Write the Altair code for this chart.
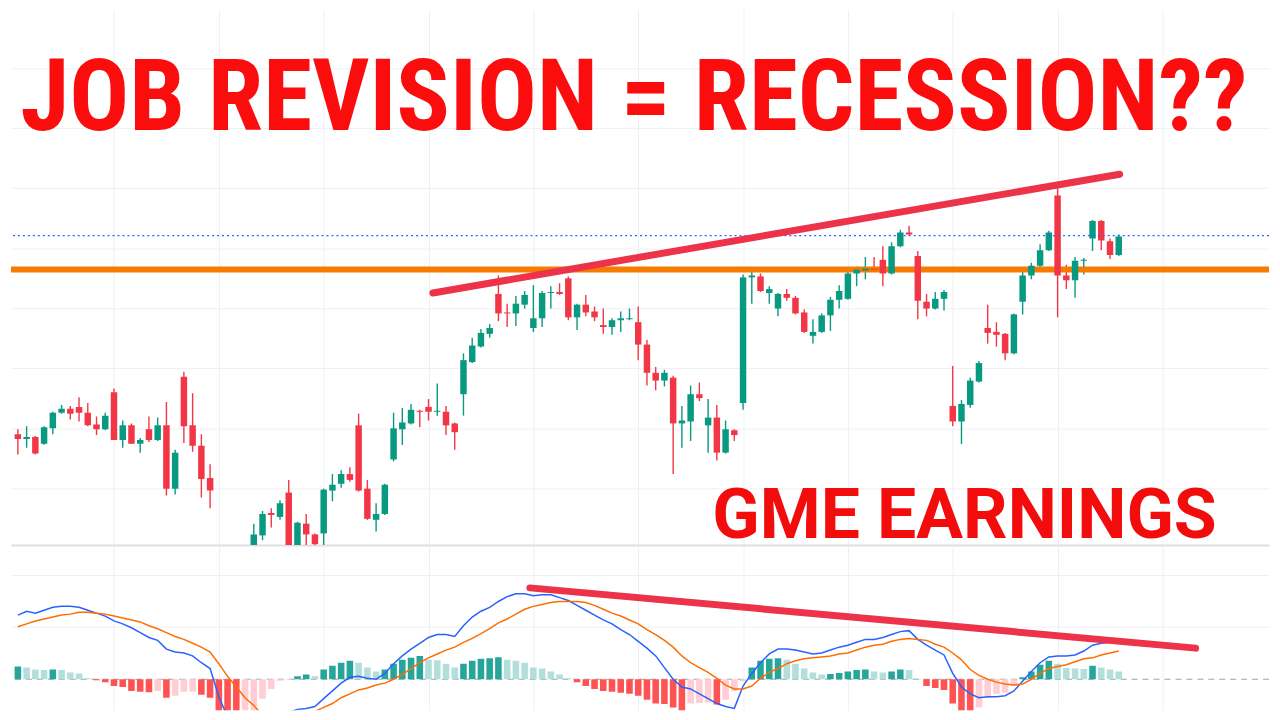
import altair as alt
import pandas as pd
import numpy as np

# ---------------- data ----------------
opens = [26.4, 25.9, 26.1, 25.4, 27.0, 28.6, 29.0, 29.2, 28.6, 27.4,
         26.9, 30.7, 25.8, 27.3, 25.4, 26.9, 25.8, 27.3, 20.8, 32.3,
         27.3, 25.2, 21.9, 14.4, 12.2, 13.2, 11.0, 14.0, 16.0, 18.3,
         17.9, 20.4, 13.8, 17.2, 16.1, 16.2, 20.6, 21.3, 22.3, 27.3,
         20.8, 17.6, 18.2, 23.8, 26.9, 27.5, 28.8, 29.2, 28.7, 28.7,
         27.5, 30.5, 33.8, 35.4, 36.7, 40.8, 38.9, 38.8, 39.7, 37.3,
         38.3, 40.9, 41.0, 42.4, 38.4, 39.7, 39.0, 37.6, 37.4, 38.1,
         38.2, 37.9, 35.6, 32.7, 31.9, 32.2, 27.5, 27.7, 30.5, 27.3,
         28.1, 24.5, 26.8, 29.6, 42.5, 42.6, 40.9, 39.3, 40.8, 40.4,
         38.9, 36.5, 36.9, 38.6, 40.2, 40.3, 42.9, 43.2, 43.4, 44.3,
         42.9, 45.7, 47.1, 44.7, 40.0, 39.3, 40.3, 29.3, 27.7, 29.4,
         31.8, 37.3, 36.9, 36.7, 34.7, 40.0, 42.7, 43.7, 45.3, 50.9,
         42.7, 42.2, 44.2, 46.5, 48.3, 46.2, 44.8]
highs = [26.9, 27.2, 26.2, 27.2, 28.7, 29.4, 29.3, 30.2, 29.6, 28.2,
         28.6, 31.1, 27.8, 27.5, 26.0, 28.2, 28.1, 29.7, 24.8, 32.8,
         30.6, 26.4, 23.3, 14.7, 14.0, 13.8, 14.4, 17.2, 18.5, 18.8,
         19.6, 21.7, 17.4, 18.2, 16.2, 20.8, 22.3, 22.7, 23.0, 28.5,
         21.7, 19.3, 21.3, 28.6, 29.1, 29.5, 28.9, 30.0, 31.6, 29.3,
         27.6, 34.7, 36.3, 37.2, 37.7, 42.7, 39.8, 40.6, 41.1, 41.7,
         41.1, 41.6, 41.9, 42.6, 39.8, 40.7, 39.5, 39.3, 38.3, 39.0,
         39.3, 39.5, 36.1, 33.3, 33.0, 32.4, 29.3, 31.4, 31.7, 30.0,
         29.4, 27.8, 26.9, 42.8, 43.1, 42.9, 41.6, 40.9, 41.3, 40.6,
         39.2, 38.2, 38.8, 40.5, 41.7, 43.3, 43.6, 44.6, 44.6, 45.7,
         46.1, 47.4, 47.8, 45.2, 40.8, 41.0, 41.2, 33.4, 29.9, 32.2,
         33.9, 39.7, 37.9, 36.8, 38.8, 43.1, 44.0, 45.9, 47.3, 51.7,
         43.8, 44.6, 44.5, 48.4, 48.4, 46.5, 46.9]
lows = [24.3, 25.0, 24.3, 25.3, 26.4, 28.5, 27.9, 27.7, 27.2, 26.3,
        26.8, 25.8, 25.0, 25.4, 24.5, 25.6, 25.7, 20.1, 20.2, 25.5,
        24.6, 19.9, 18.8, 11.0, 10.5, 10.0, 10.2, 13.4, 15.5, 16.8,
        17.6, 13.5, 13.4, 14.4, 14.5, 14.2, 19.5, 20.9, 21.5, 20.5,
        17.6, 16.4, 18.1, 23.6, 25.3, 27.4, 27.1, 27.8, 28.3, 26.3,
        24.8, 28.3, 33.7, 35.3, 36.3, 38.0, 37.4, 37.5, 39.3, 36.9,
        37.4, 39.3, 40.7, 38.1, 37.1, 38.5, 38.0, 36.7, 36.6, 36.9,
        38.1, 34.0, 31.4, 30.9, 31.3, 22.3, 25.0, 25.7, 29.8, 24.5,
        23.7, 24.4, 25.7, 28.9, 39.8, 41.0, 39.8, 38.5, 40.1, 38.7,
        36.8, 35.7, 36.8, 37.0, 39.3, 40.2, 41.6, 42.3, 43.2, 41.6,
        42.8, 45.6, 46.8, 38.2, 38.5, 39.2, 39.1, 27.2, 25.4, 29.1,
        31.7, 35.7, 35.4, 34.0, 34.6, 38.7, 42.3, 43.5, 45.2, 38.4,
        41.3, 40.4, 42.8, 45.2, 45.3, 44.4, 44.7]
closes = [25.9, 26.1, 24.4, 27.1, 28.6, 29.0, 28.5, 28.6, 27.3, 26.9,
          28.3, 25.8, 27.3, 25.4, 25.8, 25.8, 27.3, 20.8, 24.5, 27.2,
          25.2, 21.8, 20.6, 12.0, 13.4, 11.2, 13.8, 16.1, 18.2, 18.1,
          19.3, 14.0, 17.3, 16.1, 15.1, 20.7, 21.2, 22.3, 21.7, 20.6,
          17.7, 18.2, 21.2, 27.0, 27.6, 28.9, 28.7, 28.7, 28.8, 27.3,
          26.6, 34.0, 35.5, 36.8, 37.3, 38.8, 38.8, 39.8, 40.7, 38.3,
          40.9, 41.0, 40.8, 38.4, 39.7, 38.9, 38.4, 37.4, 38.1, 38.3,
          38.3, 35.6, 32.7, 31.9, 32.7, 27.5, 27.8, 30.5, 30.1, 28.1,
          24.5, 26.9, 26.3, 42.5, 42.7, 41.1, 41.3, 40.8, 40.4, 38.8,
          36.9, 36.9, 38.6, 40.2, 41.1, 42.9, 43.3, 43.4, 43.3, 42.9,
          45.7, 47.1, 46.9, 40.1, 39.3, 40.3, 41.0, 27.7, 29.5, 31.9,
          33.7, 36.8, 36.6, 34.7, 38.7, 42.7, 43.7, 45.3, 47.1, 42.7,
          42.2, 44.2, 44.3, 48.3, 46.3, 44.8, 46.7]

macd = [1.32, 1.40, 1.36, 1.42, 1.48, 1.50, 1.50, 1.48, 1.42, 1.36,
        1.30, 1.20, 1.14, 1.06, 0.96, 0.86, 0.80, 0.62, 0.56, 0.54,
        0.48, 0.34, 0.22, -0.36, -0.78, -1.06, -1.08, -1.20, -1.14, -0.98,
        -0.84, -0.68, -0.62, -0.60, -0.56, -0.40, -0.24, -0.08, 0.04, 0.06,
        0.02, 0.00, 0.12, 0.32, 0.48, 0.62, 0.74, 0.86, 0.92, 0.92,
        0.88, 1.10, 1.28, 1.40, 1.48, 1.60, 1.70, 1.76, 1.76, 1.72,
        1.74, 1.74, 1.68, 1.62, 1.52, 1.42, 1.32, 1.22, 1.14, 1.02,
        0.92, 0.78, 0.64, 0.48, 0.24, 0.00, -0.16, -0.20, -0.30, -0.40,
        -0.50, -0.56, -0.60, -0.14, 0.12, 0.34, 0.52, 0.62, 0.62, 0.60,
        0.56, 0.52, 0.54, 0.60, 0.66, 0.70, 0.76, 0.82, 0.82, 0.86,
        0.92, 0.98, 1.00, 0.82, 0.70, 0.60, 0.50, 0.12, -0.16, -0.30,
        -0.38, -0.36, -0.36, -0.34, -0.24, -0.04, 0.16, 0.34, 0.46, 0.48,
        0.48, 0.50, 0.58, 0.70, 0.74, 0.76, 0.76]
signal = [1.08, 1.14, 1.20, 1.24, 1.28, 1.32, 1.34, 1.38, 1.38, 1.36,
          1.34, 1.30, 1.26, 1.22, 1.18, 1.10, 1.04, 0.96, 0.88, 0.82,
          0.74, 0.66, 0.56, 0.32, 0.06, -0.16, -0.38, -0.54, -0.74, -0.80,
          -0.82, -0.80, -0.76, -0.72, -0.66, -0.58, -0.50, -0.38, -0.30, -0.22,
          -0.18, -0.12, -0.08, 0.00, 0.10, 0.22, 0.34, 0.44, 0.52, 0.60,
          0.66, 0.76, 0.84, 0.94, 1.04, 1.16, 1.24, 1.34, 1.44, 1.50,
          1.54, 1.58, 1.60, 1.60, 1.60, 1.58, 1.52, 1.44, 1.36, 1.30,
          1.22, 1.14, 1.02, 0.92, 0.80, 0.66, 0.48, 0.34, 0.24, 0.14,
          0.02, -0.12, -0.20, -0.20, -0.14, 0.02, 0.14, 0.22, 0.32, 0.38,
          0.42, 0.44, 0.46, 0.48, 0.52, 0.54, 0.60, 0.66, 0.70, 0.72,
          0.78, 0.82, 0.84, 0.82, 0.80, 0.72, 0.66, 0.54, 0.40, 0.20,
          0.08, 0.00, -0.06, -0.10, -0.12, -0.10, 0.00, 0.12, 0.22, 0.26,
          0.30, 0.36, 0.42, 0.44, 0.50, 0.54, 0.58]
hist = [0.26, 0.24, 0.20, 0.19, 0.20, 0.19, 0.14, 0.12, 0.02, -0.02,
        -0.06, -0.14, -0.16, -0.24, -0.26, -0.27, -0.24, -0.38, -0.34, -0.26,
        -0.25, -0.32, -0.38, -0.75, -0.85, -0.90, -0.70, -0.66, -0.40, -0.20,
        -0.03, -0.01, 0.06, 0.10, 0.06, 0.20, 0.28, 0.34, 0.38, 0.34,
        0.24, 0.16, 0.20, 0.32, 0.40, 0.44, 0.48, 0.40, 0.39, 0.32,
        0.24, 0.32, 0.38, 0.42, 0.43, 0.45, 0.40, 0.38, 0.34, 0.24,
        0.22, 0.16, 0.10, 0.02, -0.06, -0.14, -0.20, -0.24, -0.26, -0.28,
        -0.30, -0.34, -0.42, -0.50, -0.51, -0.58, -0.66, -0.50, -0.49, -0.48,
        -0.52, -0.42, -0.24, -0.04, 0.24, 0.38, 0.42, 0.43, 0.40, 0.32,
        0.22, 0.14, 0.10, 0.11, 0.13, 0.16, 0.19, 0.20, 0.16, 0.14,
        0.16, 0.20, 0.19, 0.01, -0.14, -0.18, -0.22, -0.50, -0.75, -0.80,
        -0.58, -0.38, -0.30, -0.28, -0.14, 0.04, 0.16, 0.30, 0.38, 0.32,
        0.23, 0.22, 0.21, 0.28, 0.24, 0.20, 0.16]

grid_x = [11, 23, 35, 47, 59, 71, 83, 95, 107, 119, 131]
grid_price = [20.82, 27.0, 33.16, 39.33, 45.5, 51.66, 57.83, 64.0]
grid_macd = [1.08, 2.14]
support_level = 43.3
last_price = 46.8
price_trend_i = [47.5, 126.1]
price_trend_p = [40.9, 53.1]
macd_trend_i = [58.6, 134.8]
macd_trend_m = [1.88, 0.64]
title_text = "JOB REVISION = RECESSION??"
note_text = "GME EARNINGS"

# ---------------- tables ----------------
n = len(closes)
df = pd.DataFrame({"i": np.arange(n), "open": opens, "high": highs,
                   "low": lows, "close": closes, "macd": macd,
                   "signal": signal, "hist": hist})
df["dir"] = np.where(df["close"] >= df["open"], "up", "down")
prev = df["hist"].shift(1).fillna(df["hist"])
df["shade"] = np.select(
    [(df["hist"] >= 0) & (df["hist"] >= prev), df["hist"] >= 0, df["hist"] < prev],
    ["pos_up", "pos_down", "neg_down"], "neg_up")
df["zero"] = 0.0

W, H_TOP, H_BOT = 1264, 538, 166
GRID = "#eef0f4"
x_scale = alt.Scale(domain=[-0.22, 142.63], nice=False, zero=False)


def xenc(domain_line=False):
    return alt.X("i:Q", scale=x_scale,
                 axis=alt.Axis(values=grid_x, labels=False, ticks=False,
                               domain=domain_line, domainColor="#dcdfe6",
                               domainWidth=2, grid=True, gridColor=GRID,
                               title=None))


y_top = alt.Scale(domain=[15, 70], nice=False, zero=False)
y_top_axis = alt.Axis(values=grid_price, labels=False, ticks=False,
                      domain=False, grid=True, gridColor=GRID, title=None)
y_bot = alt.Scale(domain=[-0.64, 2.76], nice=False, zero=False)
y_bot_axis = alt.Axis(values=grid_macd, labels=False, ticks=False,
                      domain=False, grid=True, gridColor=GRID, title=None)

dir_color = alt.Color("dir:N", scale=alt.Scale(domain=["up", "down"],
                      range=["#089981", "#f23645"]), legend=None)

base = alt.Chart(df)

wicks = base.mark_rule(strokeWidth=1.4, clip=True).encode(
    x=xenc(True), y=alt.Y("low:Q", scale=y_top, axis=y_top_axis),
    y2="high:Q", color=dir_color)
bodies = base.mark_bar(width=6.5, clip=True).encode(
    x=xenc(True), y=alt.Y("open:Q", scale=y_top, axis=y_top_axis),
    y2="close:Q", color=dir_color)

support = alt.Chart(pd.DataFrame({"p": [support_level]})).mark_rule(
    color="#f57c00", strokeWidth=6).encode(y=alt.Y("p:Q", scale=y_top, axis=y_top_axis))
lastp = alt.Chart(pd.DataFrame({"p": [last_price]})).mark_rule(
    color="#2962ff", strokeWidth=1.3, strokeDash=[2, 3]).encode(
    y=alt.Y("p:Q", scale=y_top, axis=y_top_axis))
trend_top = alt.Chart(pd.DataFrame({"i": price_trend_i, "p": price_trend_p})).mark_line(
    color="#ec3349", strokeWidth=7, strokeCap="round").encode(
    x=xenc(True), y=alt.Y("p:Q", scale=y_top, axis=y_top_axis))

TITLE_FONT = "Roboto Condensed, Liberation Sans Narrow, Roboto"
tdf = pd.DataFrame({"t": [title_text]})
title = alt.Chart(tdf).mark_text(
    font=TITLE_FONT, fontWeight="bold", fontSize=100, color="#fc0d0d",
    clip=True, align="center", baseline="alphabetic").encode(
    x=alt.value(626), y=alt.value(121), text="t:N")
note = alt.Chart(pd.DataFrame({"t": [note_text]})).mark_text(
    font="Roboto", fontWeight="bold", fontSize=70, color="#f20c0c", clip=True,
    align="center", baseline="alphabetic").encode(
    x=alt.value(958), y=alt.value(531), text="t:N")

top = alt.layer(wicks, support, bodies, lastp, trend_top, title, note).properties(
    width=W, height=H_TOP)

zero_line = alt.Chart(pd.DataFrame({"z": [0.0]})).mark_rule(
    color="#9aa0aa", strokeDash=[6, 5], strokeWidth=1).encode(
    y=alt.Y("z:Q", scale=y_bot, axis=y_bot_axis))
bars = base.mark_bar(width=6.6, clip=True).encode(
    x=xenc(), y=alt.Y("hist:Q", scale=y_bot, axis=y_bot_axis), y2="zero:Q",
    color=alt.Color("shade:N", scale=alt.Scale(
        domain=["pos_up", "pos_down", "neg_down", "neg_up"],
        range=["#26a69a", "#b2dfdb", "#ff5252", "#ffcdd2"]), legend=None))
macd_line = base.mark_line(color="#2962ff", strokeWidth=1.5, clip=True).encode(
    x=xenc(), y=alt.Y("macd:Q", scale=y_bot, axis=y_bot_axis))
sig_line = base.mark_line(color="#ff6d00", strokeWidth=1.5, clip=True).encode(
    x=xenc(), y=alt.Y("signal:Q", scale=y_bot, axis=y_bot_axis))
trend_bot = alt.Chart(pd.DataFrame({"i": macd_trend_i, "m": macd_trend_m})).mark_line(
    color="#ec3349", strokeWidth=7, strokeCap="round").encode(
    x=xenc(), y=alt.Y("m:Q", scale=y_bot, axis=y_bot_axis))

bottom = alt.layer(zero_line, bars, macd_line, sig_line, trend_bot).properties(
    width=W, height=H_BOT)

chart = alt.vconcat(top, bottom, spacing=0).resolve_scale(
    color="independent").properties(
    padding=0, background="white").configure_view(strokeWidth=0)

chart.save("out.html", embed_options={"renderer": "svg", "actions": False})
